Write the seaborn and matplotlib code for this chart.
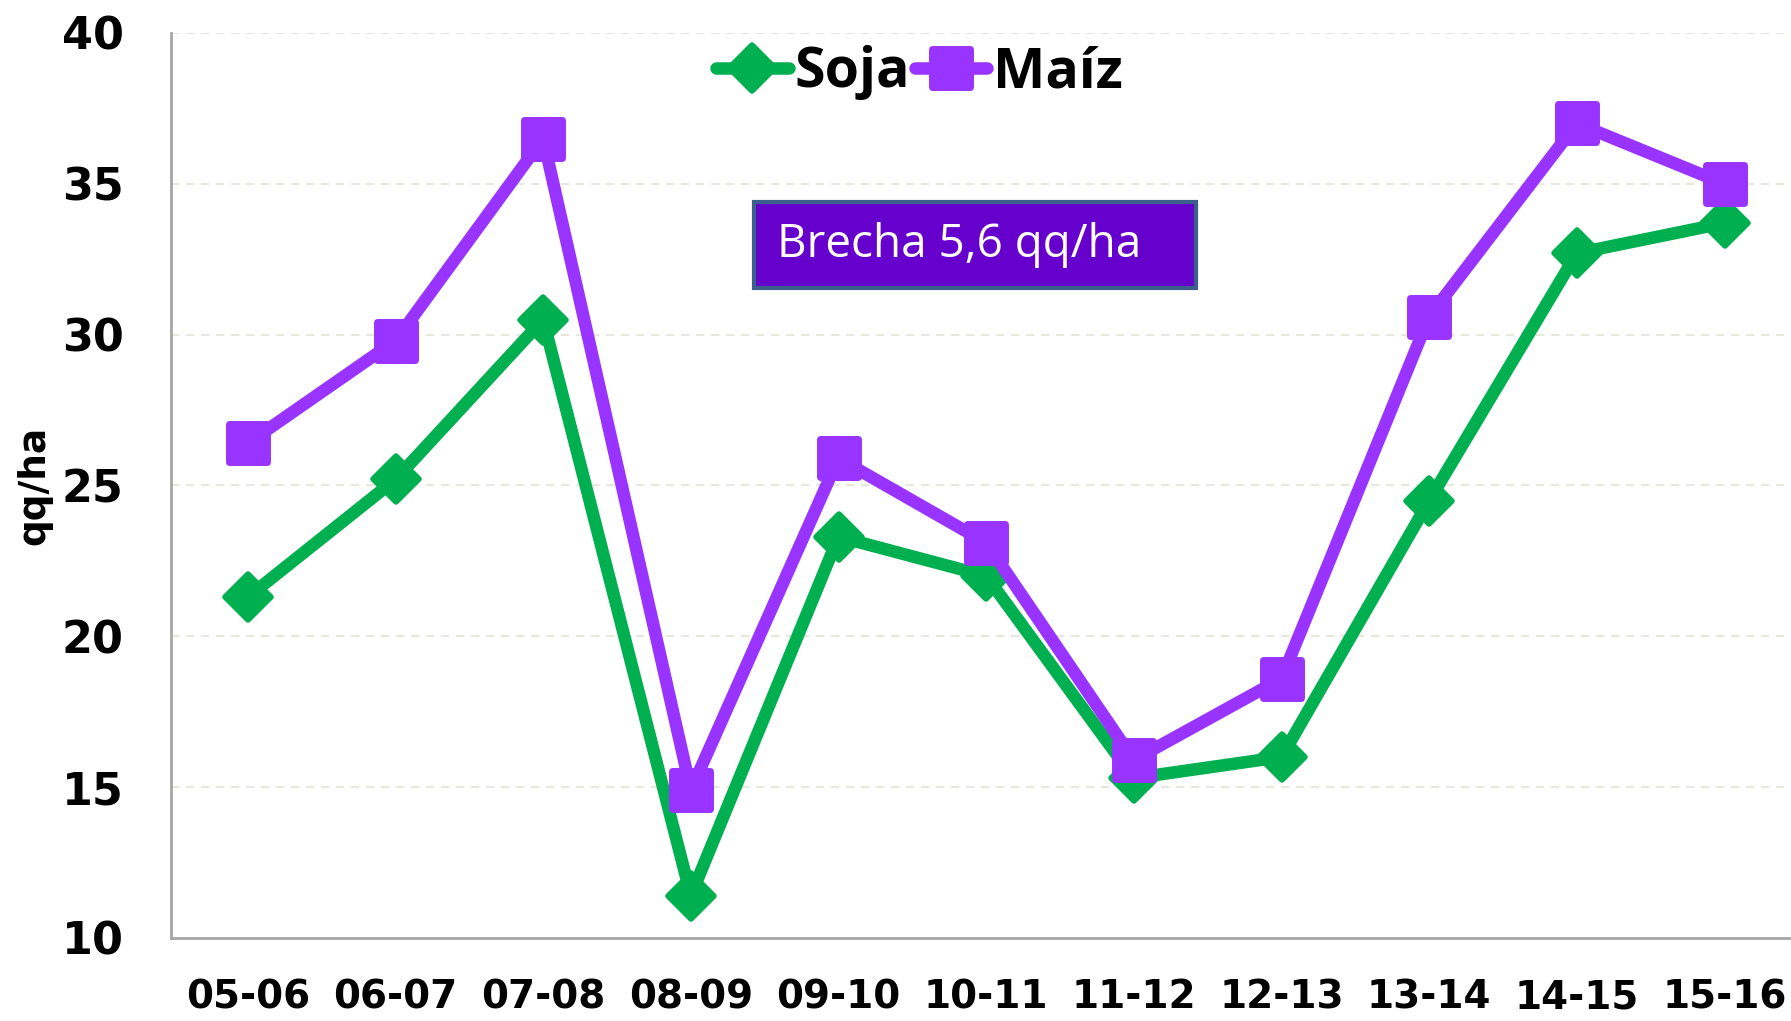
import numpy as np
import pandas as pd
import matplotlib
matplotlib.use("Agg")
import matplotlib.pyplot as plt
import seaborn as sns
from matplotlib.markers import MarkerStyle
from matplotlib.patches import Rectangle

# datos
campanias = ['05-06', '06-07', '07-08', '08-09', '09-10', '10-11',
             '11-12', '12-13', '13-14', '14-15', '15-16']
soja = [21.3, 25.2, 30.5, 11.4, 23.3, 22.0, 15.3, 16.0, 24.5, 32.7, 33.7]
maiz = [26.4, 29.8, 36.5, 14.9, 25.9, 23.1, 15.9, 18.6, 30.6, 37.0, 35.0]
y_ticks = [10, 15, 20, 25, 30, 35, 40]
texto_brecha = 'Brecha 5,6 qq/ha'

VERDE = '#00B050'
VIOLETA = '#9933FF'

sns.set_style('white')
plt.rcParams['font.family'] = ['DejaVu Sans']
plt.rcParams['text.color'] = 'black'
plt.rcParams['xtick.color'] = 'black'
plt.rcParams['ytick.color'] = 'black'
plt.rcParams['axes.labelcolor'] = 'black'

df = pd.DataFrame({'campania': campanias, 'Soja': soja, 'Maíz': maiz})

fig = plt.figure(figsize=(17.91, 10.21), dpi=100)
ax = fig.add_axes([0.0955, 0.0813, 0.9045, 0.8864])

sns.lineplot(data=df, x='campania', y='Soja', sort=False, ax=ax, color=VERDE,
             linewidth=9, marker=MarkerStyle('D', joinstyle='round'), markersize=23,
             markeredgewidth=4, markeredgecolor=VERDE, solid_capstyle='round',
             label='Soja')
sns.lineplot(data=df, x='campania', y='Maíz', sort=False, ax=ax, color=VIOLETA,
             linewidth=9, marker=MarkerStyle('s', joinstyle='round'), markersize=27,
             markeredgewidth=5, markeredgecolor=VIOLETA, solid_capstyle='round',
             label='Maíz')

ax.set_xlim(-0.52, len(campanias) - 0.55)
ax.set_ylim(10, 40)
ax.set_yticks(y_ticks)
ax.yaxis.grid(True, linestyle=(0, (5, 4)), color='#E3E3D6', linewidth=1.2)
ax.xaxis.grid(False)
for s in ['top', 'right']:
    ax.spines[s].set_visible(False)
for s in ['left', 'bottom']:
    ax.spines[s].set_color('#A6A6A6')
    ax.spines[s].set_linewidth(2)

ax.tick_params(axis='both', length=0)
ax.tick_params(axis='x', pad=29)
ax.tick_params(axis='y', pad=34)
for lbl in ax.get_yticklabels():
    lbl.set_fontsize(32)
    lbl.set_fontweight('bold')
for lbl in ax.get_xticklabels():
    lbl.set_fontsize(28)
    lbl.set_fontweight('bold')

ax.set_xlabel('')
ax.set_ylabel('qq/ha', fontsize=27, fontweight='bold')
ax.yaxis.set_label_coords(-0.073, 0.5)

leg = ax.legend(loc='center', bbox_to_anchor=(0.462, 0.956), ncol=2, frameon=False,
                handlelength=1.3, handletextpad=0.1, columnspacing=0.1,
                prop={'family': 'Open Sans', 'weight': 'bold', 'size': 40})

# recuadro de la brecha
ax.add_patch(Rectangle((0.360, 0.718), 0.273, 0.095, transform=ax.transAxes,
                       facecolor='#6600CC', edgecolor='#3B5E8C', linewidth=3, zorder=5))
ax.text(0.374, 0.766, texto_brecha, transform=ax.transAxes, color='white',
        fontsize=33, family='Open Sans', va='center', ha='left', zorder=6)

plt.savefig('out.png', dpi=100)
plt.close()
